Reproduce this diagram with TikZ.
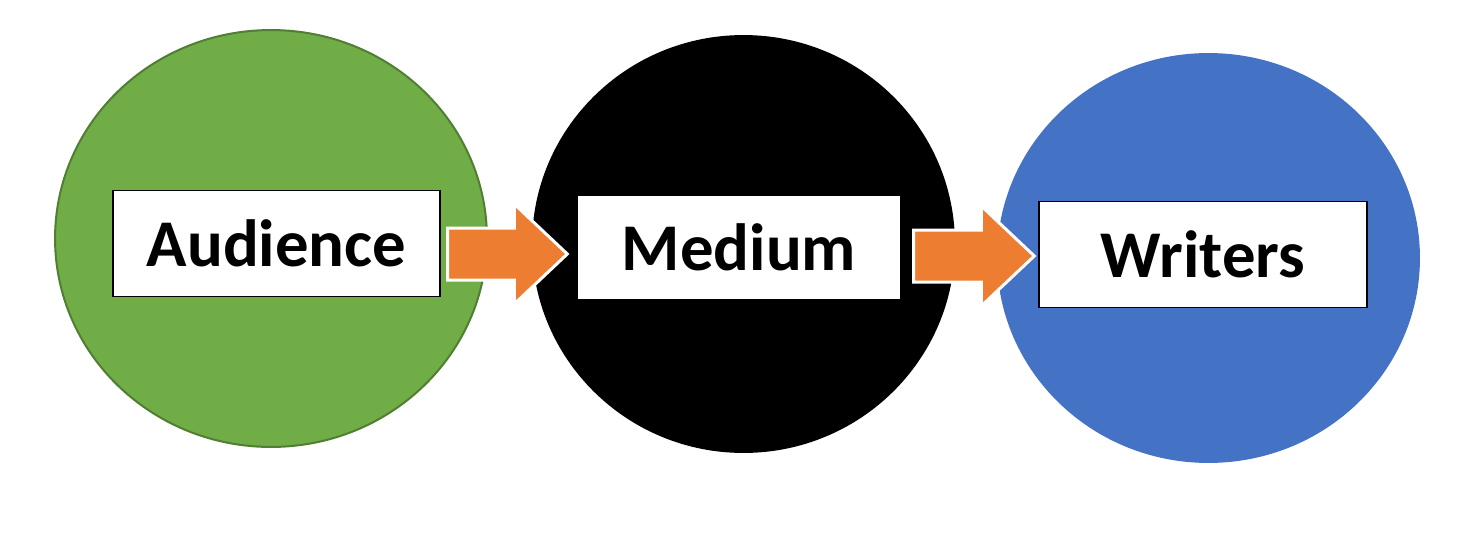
\documentclass[tikz,border=0pt]{standalone}
\usepackage{fontspec}
\setmainfont{Carlito}
\usetikzlibrary{shapes.geometric,calc}

\definecolor{ppgreen}{HTML}{70AD47}
\definecolor{ppgreenline}{HTML}{507E32}
\definecolor{ppblue}{HTML}{4472C4}
\definecolor{pporange}{HTML}{ED7D31}

\tikzset{
  stage/.style={ellipse, inner sep=0pt},
  label box/.style={draw=black, fill=white, line width=0.03cm,
    minimum width=6.54cm, minimum height=2.12cm, inner sep=0pt,
    font=\fontsize{38}{44}\selectfont\bfseries},
  flow/.style={fill=pporange, draw=white, line width=0.06cm, line join=miter}
}

% block arrow from tail (#1) to tip (#2)
\newcommand{\blockarrow}[2]{%
  \path[flow] ($(#1)+(0,-26)$) -- ($(#2)+(-53,-26)$) -- ($(#2)+(-53,-50)$)
    -- (#2) -- ($(#2)+(-53,50)$) -- ($(#2)+(-53,26)$) -- ($(#1)+(0,26)$) -- cycle;}

\begin{document}
\begin{tikzpicture}[x=0.02cm, y=-0.02cm]
\useasboundingbox (0,0) rectangle (1463,554);

% Circles
\node[stage, fill=ppgreen, draw=ppgreenline, line width=0.04cm,
  minimum width=8.64cm, minimum height=8.34cm] (audc) at (271,238.5) {};
\node[stage, fill=black, minimum width=8.46cm, minimum height=8.36cm] (medc) at (743.5,244) {};
\node[stage, fill=ppblue, minimum width=8.46cm, minimum height=8.2cm] (wric) at (1208.5,258) {};

% Labels
\node[label box] (aud) at (276.5,243.5) {Audience};
\node[label box, minimum width=6.48cm, minimum height=2.1cm] (med) at (739,247.5) {Medium};
\node[label box, minimum width=6.56cm] (wri) at (1203,254.5) {Writers};

% Arrows
\coordinate (a1s) at ($(aud.east |- 0,254)+(7,0)$);
\coordinate (a1t) at ($(med.west |- 0,254)+(-9,0)$);
\coordinate (a2s) at ($(med.east |- 0,256)+(12,0)$);
\coordinate (a2t) at ($(wri.west |- 0,256)+(-4,0)$);
\blockarrow{a1s}{a1t}
\blockarrow{a2s}{a2t}

\end{tikzpicture}
\end{document}
